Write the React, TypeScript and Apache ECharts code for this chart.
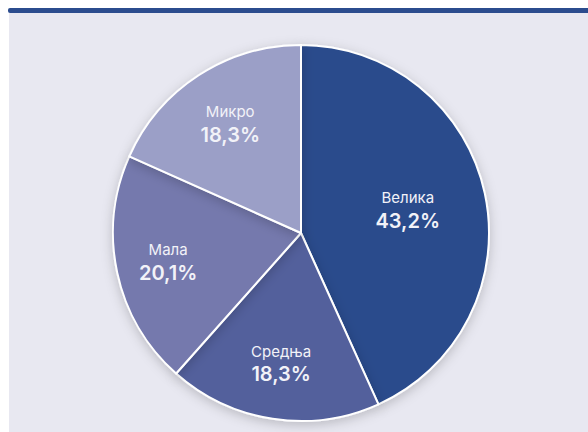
import React, { useEffect, useRef } from "react";
import * as echarts from "echarts";

const categories = ["Велика", "Средња", "Мала", "Микро"];
const values = [43.2, 18.3, 20.1, 18.3];
const colors = ["#294b8c", "#52609c", "#7479ad", "#9b9fc7"];
// label distance from the centre as a fraction of the radius
const labelRadiusFraction = [0.565, 0.686, 0.707, 0.676];

const RADIUS = 188;

export default function App() {
  const ref = useRef<HTMLDivElement>(null);
  useEffect(() => {
    if (!ref.current) return;
    const chart = echarts.init(ref.current, undefined, { renderer: "svg" });
    const total = values.reduce((a, b) => a + b, 0);
    let cum = 0;
    const data = categories.map((c, i) => {
      const mid = ((cum + values[i] / 2) / total) * Math.PI * 2;
      cum += values[i];
      const extra = (labelRadiusFraction[i] - 0.5) * RADIUS;
      const dx = Math.sin(mid) * extra;
      const dy = -Math.cos(mid) * extra;
      return {
        name: c,
        value: values[i],
        itemStyle: { color: colors[i] },
        label: { offset: [dx, dy] },
      };
    });
    chart.setOption({
      animation: false,
      backgroundColor: "#ffffff",
      graphic: [
        { type: "rect", shape: { x: 9, y: 13, width: 600, height: 430 }, style: { fill: "#e8e8f1" }, z: -10 },
        { type: "rect", shape: { x: 8, y: 8, width: 600, height: 5, r: 2 }, style: { fill: "#2b4c8e" }, z: -9 },
      ],
      series: [
        {
          type: "pie",
          center: [301, 233],
          radius: [0, RADIUS],
          startAngle: 90,
          clockwise: true,
          label: {
            show: true,
            position: "inside",
            color: "#ffffff",
            fontFamily: "Inter",
            formatter: (p: any) => `{n|${p.name}}\n{v|${p.value.toFixed(1).replace(".", ",")}%}`,
            rich: {
              n: { fontSize: 15, fontFamily: "Inter", color: "#f2f2f8", lineHeight: 22 },
              v: { fontSize: 20, fontWeight: 600, fontFamily: "Inter", color: "#f2f2f8", lineHeight: 24 },
            },
          },
          labelLine: { show: false },
          itemStyle: {
            borderColor: "#ffffff",
            borderWidth: 2,
            shadowBlur: 12,
            shadowColor: "rgba(0,0,0,0.2)",
            shadowOffsetY: 3,
          },
          emphasis: { disabled: true },
          data,
        },
      ],
    });
    return () => chart.dispose();
  }, []);
  return <div ref={ref} style={{ position: "fixed", left: 0, top: 0, width: 588, height: 432 }} />;
}
